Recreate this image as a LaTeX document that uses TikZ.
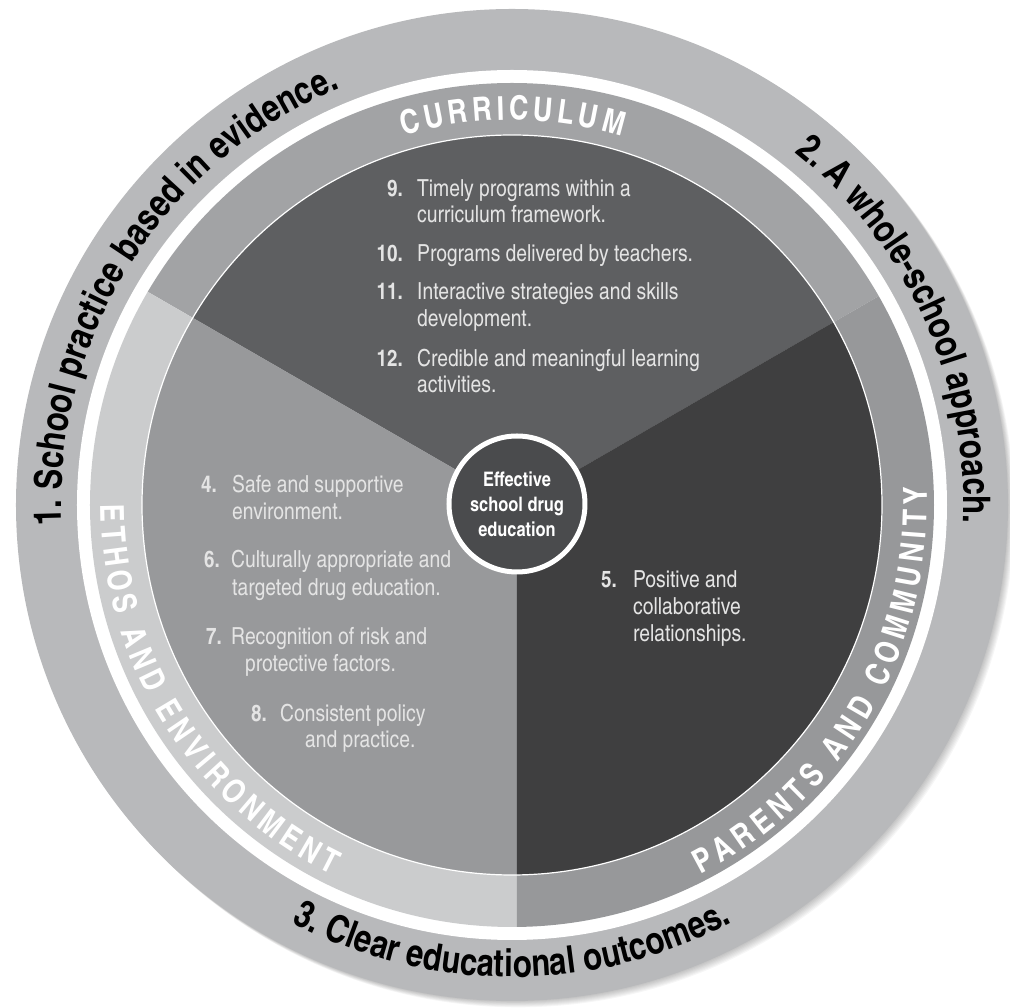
\documentclass[tikz,border=0pt]{standalone}
\usepackage{fontspec}
\usetikzlibrary{decorations.text}
\IfFontExistsTF{TeX Gyre Heros Cn}
  {\newfontfamily\dgcn{TeX Gyre Heros Cn}}
  {\newfontfamily\dgcn{TeX Gyre Heros}[FakeStretch=0.82]}

\newcommand\dgring{\dgcn\bfseries\fontsize{38pt}{38pt}\selectfont}
\newcommand\dgband{\dgcn\bfseries\fontsize{33pt}{33pt}\selectfont}
\newcommand\dgitem{\dgcn\fontsize{23.5pt}{27pt}\selectfont}
\newcommand\dgnum{\dgcn\bfseries\fontsize{23pt}{27pt}\selectfont}
\newcommand\dghub{\dgcn\bfseries\fontsize{20pt}{25pt}\selectfont}

\definecolor{ringgray}{HTML}{B8B9BB}
\definecolor{bandcur}{HTML}{A2A3A5}
\definecolor{bandpar}{HTML}{97989A}
\definecolor{bandeth}{HTML}{CBCCCD}
\definecolor{seccur}{HTML}{5E5F61}
\definecolor{secpar}{HTML}{3F3F40}
\definecolor{seceth}{HTML}{98999B}
\definecolor{hubgray}{HTML}{4A4B4D}
\definecolor{itemtext}{HTML}{E4E4E4}

\begin{document}
\begin{tikzpicture}[x=1pt,y=1pt,
  itemline/.style={anchor=base west, inner sep=0pt, font=\dgitem, text=itemtext},
  itemnum/.style={anchor=base east, inner sep=0pt, font=\dgnum, text=itemtext},
  ringtext/.style={decorate, decoration={text along path, text align=center}},
  bandtext/.style={decorate, decoration={text along path, text color=white, text align=fit to path}}]
\useasboundingbox (-512,-503) rectangle (498,505);

% soft drop shadow of the wheel
\foreach \k in {1,...,7}{
  \fill[black, opacity=0.035] (\k*0.9pt,-\k*0.9pt) circle[radius=496pt];
}

% outer ring and white gap
\fill[ringgray] (0,0) circle[radius=496pt];
\fill[white] (0,0) circle[radius=435pt];

% label band, split into three sectors
\coordinate (S) at (5,0);
\begin{scope}
  \clip (0,0) circle[radius=422pt];
  \fill[bandcur] (S) -- ++(30:700pt) arc[start angle=30, end angle=150, radius=700pt] -- cycle;
  \fill[bandeth] (S) -- ++(150:700pt) arc[start angle=150, end angle=270, radius=700pt] -- cycle;
  \fill[bandpar] (S) -- ++(270:700pt) arc[start angle=270, end angle=390, radius=700pt] -- cycle;
\end{scope}

% inner disc sectors
\begin{scope}
  \clip (0,0) circle[radius=370pt];
  \fill[seccur] (S) -- ++(30:700pt) arc[start angle=30, end angle=150, radius=700pt] -- cycle;
  \fill[seceth] (S) -- ++(150:700pt) arc[start angle=150, end angle=270, radius=700pt] -- cycle;
  \fill[secpar] (S) -- ++(270:700pt) arc[start angle=270, end angle=390, radius=700pt] -- cycle;
\end{scope}
\draw[white, line width=1.2pt] (0,0) circle[radius=370pt];

% hub
\node[circle, fill=hubgray, draw=white, line width=5pt, minimum size=136pt,
      align=center, font=\dghub, text=white, inner sep=0pt] (hub) at (5,1)
      {Effective\\school drug\\education};

% principles on the outer ring
\path[ringtext, decoration={text={|\dgring|1. School practice based in evidence.}}]
  (202.5:451pt) arc[start angle=202.5, end angle=92.5, radius=451pt];
\path[ringtext, decoration={text={|\dgring|2. A whole-school approach.}}]
  (79.5:452pt) arc[start angle=79.5, end angle=-30.5, radius=452pt];
\path[ringtext, decoration={text={|\dgring|3. Clear educational outcomes.}}]
  (215:472pt) arc[start angle=215, end angle=325, radius=472pt];

% band labels
\path[bandtext, decoration={text={|\dgband|CURRICULUM}}]
  (106.4:385pt) arc[start angle=106.4, end angle=73.4, radius=385pt];
\path[bandtext, decoration={text={|\dgband|ETHOS AND ENVIRONMENT}}]
  (180:411pt) arc[start angle=180, end angle=244, radius=411pt];
\path[bandtext, decoration={text={|\dgband|PARENTS AND COMMUNITY}}]
  (-63:415pt) arc[start angle=-63, end angle=2.5, radius=415pt];

% curriculum items
\node[itemnum]  (n9)  at (-109,308) {9.};
\node[itemline] (t9a) at (-95,308) {Timely programs within a};
\node[itemline] (t9b) at (-95,282) {curriculum framework.};
\node[itemnum]  (n10) at (-109,243) {10.};
\node[itemline] (t10) at (-95,243) {Programs delivered by teachers.};
\node[itemnum]  (n11) at (-109,205) {11.};
\node[itemline] (t11a) at (-95,205) {Interactive strategies and skills};
\node[itemline] (t11b) at (-95,178) {development.};
\node[itemnum]  (n12) at (-109,138) {12.};
\node[itemline] (t12a) at (-95,138) {Credible and meaningful learning};
\node[itemline] (t12b) at (-95,112) {activities.};

% ethos and environment items
\node[itemnum]  (n4)  at (-295,12) {4.};
\node[itemline] (t4a) at (-280,12) {Safe and supportive};
\node[itemline] (t4b) at (-280,-15) {environment.};
\node[itemnum]  (n6)  at (-292,-63) {6.};
\node[itemline] (t6a) at (-281,-63) {Culturally appropriate and};
\node[itemline] (t6b) at (-280,-91) {targeted drug education.};
\node[itemnum]  (n7)  at (-290,-140) {7.};
\node[itemline] (t7a) at (-281,-140) {Recognition of risk and};
\node[itemline] (t7b) at (-267,-167) {protective factors.};
\node[itemnum]  (n8)  at (-245,-217) {8.};
\node[itemline] (t8a) at (-232,-217) {Consistent policy};
\node[itemline] (t8b) at (-207,-243) {and practice.};

% parents and community item
\node[itemnum]  (n5)  at (105,-83) {5.};
\node[itemline] (t5a) at (121,-83) {Positive and};
\node[itemline] (t5b) at (121,-110) {collaborative};
\node[itemline] (t5c) at (121,-137) {relationships.};
\end{tikzpicture}
\end{document}
